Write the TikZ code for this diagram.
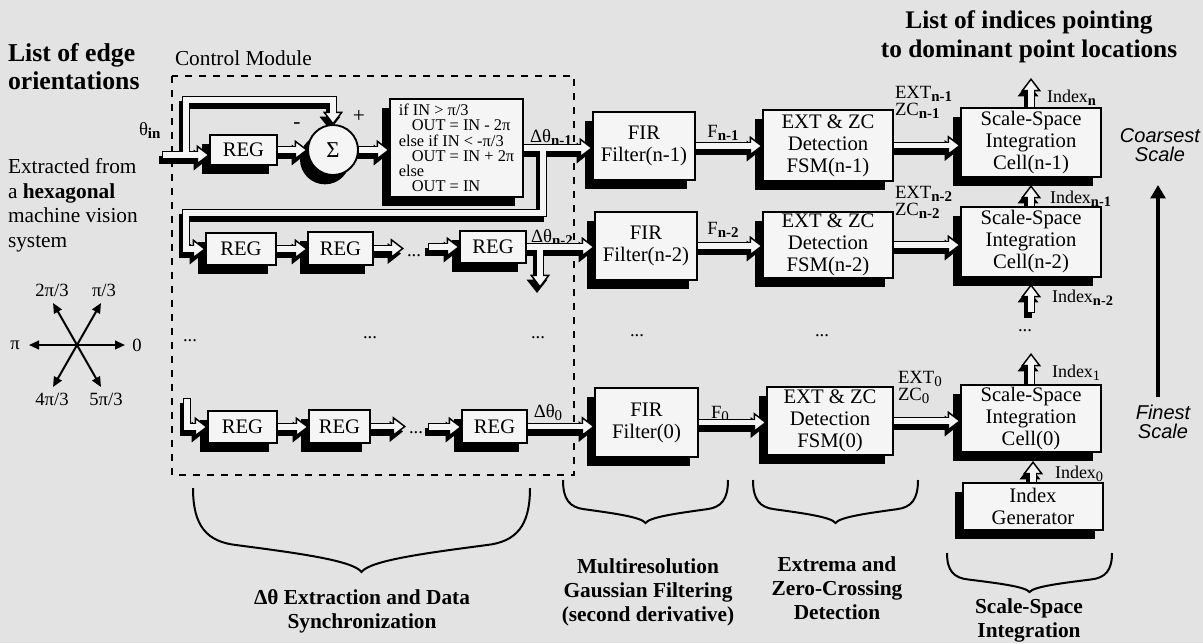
\documentclass[tikz,border=0pt]{standalone}
\usepackage{fontspec}
\setmainfont{Liberation Serif}
\newfontfamily\sansfam{Liberation Sans}
\usetikzlibrary{arrows.meta,shadows,calc}
\definecolor{paper}{gray}{0.89}
\definecolor{boxfill}{gray}{0.96}
\pgfdeclarelayer{bg}
\pgfdeclarelayer{ashadow}
\pgfdeclarelayer{aout}
\pgfdeclarelayer{ain}
\pgfsetlayers{bg,ashadow,main,aout,ain}

% subscripts
\newcommand\lo[1]{\raisebox{-0.45ex}{\scalebox{0.8}{\bfseries #1}}}
\newcommand\lz[1]{\raisebox{-0.45ex}{\scalebox{0.8}{#1}}}

% hollow 3-D arrow: black drop shadow, outline, light interior
\newcommand\fatarrow[1]{%
  \begin{pgfonlayer}{ashadow}\draw[fatshadow] #1;\end{pgfonlayer}%
  \begin{pgfonlayer}{aout}\draw[fatout] #1;\end{pgfonlayer}%
  \begin{pgfonlayer}{ain}\draw[fatin] #1;\end{pgfonlayer}}

% curly brace: left x, right x, top y, tip y
\newcommand\drawbrace[4]{%
  \pgfmathsetmacro\brC{(#1+#2)/2}%
  \pgfmathsetmacro\brW{(#2-#1)/2}%
  \pgfmathsetmacro\brH{#4-#3}%
  \draw[bracepath] (#1,#3)
    .. controls (#1,#3+0.45*\brH) and (#1+0.08*\brW,#3+0.64*\brH) .. (#1+0.26*\brW,#3+0.68*\brH)
    .. controls (#1+0.6*\brW,#3+0.77*\brH) and (\brC-0.05*\brW,#3+0.86*\brH) .. (\brC,#4)
    .. controls (\brC+0.05*\brW,#3+0.86*\brH) and (#2-0.6*\brW,#3+0.77*\brH) .. (#2-0.26*\brW,#3+0.68*\brH)
    .. controls (#2-0.08*\brW,#3+0.64*\brH) and (#2,#3+0.45*\brH) .. (#2,#3);}

\begin{document}
\begin{tikzpicture}[x=0.75pt, y=-0.75pt,
  every node/.style={inner sep=0pt, outer sep=0pt},
  box/.style={draw, line width=1.4pt, fill=boxfill, align=center,
    font=\fontsize{15.5}{16.5}\selectfont,
    drop shadow={shadow xshift=-6pt, shadow yshift=-7pt, fill=black, opacity=1}},
  sz/.style 2 args={minimum width=#1*0.75pt, minimum height=#2*0.75pt},
  fatshadow/.style={line width=6pt, black, -{Triangle[length=10pt,width=15pt]},
    transform canvas={shift={(-3,5)}}},
  fatout/.style={line width=6pt, black,
    -{Triangle[length=10pt,width=15pt,line width=1.1pt,fill=boxfill]}},
  fatin/.style={line width=3.8pt, boxfill, shorten >=8.3pt, shorten <=1.1pt},
  lbl/.style={font=\fontsize{14}{12.75}\selectfont},
  ilbl/.style={font=\fontsize{13.5}{14}\selectfont, anchor=base west},
  dotsn/.style={font=\fontsize{14}{14}\selectfont},
  star/.style={line width=1.5pt, -{Triangle[length=7.5pt,width=6.5pt]}},
  caption/.style={font=\fontsize{16}{18}\selectfont\bfseries, align=center, anchor=north},
  title/.style={font=\fontsize{19.3}{21}\selectfont\bfseries},
  bracepath/.style={line width=1.5pt},
  dashbox/.style={line width=2pt, dash pattern=on 5pt off 5.5pt},
  scalelbl/.style={font=\fontsize{15}{14.2}\selectfont\sansfam\itshape, align=center, anchor=north}
]
\useasboundingbox (0,0) rectangle (1203,643);
\begin{pgfonlayer}{bg}
  \fill[paper] (0,0) rectangle (1203,643);
\end{pgfonlayer}

% ---------- headings and side notes ----------
\node[title, align=left, anchor=north west] at (8,43.5) {List of edge\\orientations};
\node[font=\fontsize{16}{18.5}\selectfont, align=left, anchor=north west] at (8,158.5)
  {Extracted from\\a \textbf{hexagonal}\\machine vision\\system};
\node[font=\fontsize{16}{16}\selectfont, anchor=base west] at (175,65) {Control Module};
\node[title, align=center, anchor=north, font=\fontsize{19}{21.5}\selectfont\bfseries] at (1029,10.5)
  {List of indices pointing\\to dominant point locations};

% ---------- hexagonal orientations ----------
\coordinate (hc) at (77,345);
\coordinate (h0) at (125,345);
\coordinate (h60) at (101,303);
\coordinate (h120) at (53,303);
\coordinate (h180) at (29,345);
\coordinate (h240) at (53,387);
\coordinate (h300) at (101,387);
\foreach \e in {h0,h60,h120,h180,h240,h300} \draw[star] (hc) -- (\e);
\node[lbl] at (137,345) {0};
\node[lbl] at (104,290) {π/3};
\node[lbl] at (52,290) {2π/3};
\node[lbl] at (15,345) {π};
\node[lbl] at (52,399) {4π/3};
\node[lbl] at (106,399) {5π/3};

% ---------- control module ----------
\draw[dashbox] (172,76) rectangle (574,475);

\node[box, sz={67}{30}] (reg1) at (243.5,150) {REG};
\node[box, circle, minimum size=37.5pt, font=\fontsize{17}{17}\selectfont] (sum) at (333,150) {Σ};
\node[box, sz={133}{98}, align=left, font=\fontsize{12.3}{11.4}\selectfont] (cond) at (456.5,148)
  {if IN > π/3\\
   \hspace*{0.8em}OUT = IN - 2π\\
   else if IN < -π/3\\
   \hspace*{0.8em}OUT = IN + 2π\\
   else\\
   \hspace*{0.8em}OUT = IN};

\node[box, sz={70}{32}] (reg2a) at (241,249) {REG};
\node[box, sz={65}{33}] (reg2b) at (340.5,248.5) {REG};
\node[box, sz={66}{32}] (reg2c) at (493,247) {REG};

\node[box, sz={69}{32}] (reg0a) at (242.5,427) {REG};
\node[box, sz={61}{33}] (reg0b) at (339.5,426.5) {REG};
\node[box, sz={65}{33}] (reg0c) at (494.5,426.5) {REG};

% ---------- filters, detectors, integration cells ----------
\node[box, sz={102}{68}] (fir1) at (644,146) {FIR\\Filter(n-1)};
\node[box, sz={102}{68}] (fir2) at (646,246) {FIR\\Filter(n-2)};
\node[box, sz={103}{69}] (fir0) at (646.5,422.5) {FIR\\Filter(0)};

\node[box, sz={130}{71}] (ext1) at (828,145.5) {EXT \& ZC\\Detection\\FSM(n-1)};
\node[box, sz={130}{66}] (ext2) at (828,245) {EXT \& ZC\\Detection\\FSM(n-2)};
\node[box, sz={126}{68}] (ext0) at (830,421) {EXT \& ZC\\Detection\\FSM(0)};

\node[box, sz={140}{69}] (cell1) at (1031,142.5) {Scale-Space\\Integration\\Cell(n-1)};
\node[box, sz={140}{70}] (cell2) at (1031,242) {Scale-Space\\Integration\\Cell(n-2)};
\node[box, sz={140}{67}] (cell0) at (1031,418.5) {Scale-Space\\Integration\\Cell(0)};
\node[box, sz={140}{47}] (idx) at (1033,506.5) {Index\\Generator};

% ---------- row n-1 ----------
\coordinate (tin) at (162,155);
\coordinate (tj) at (186,155);
\coordinate (ttop) at (186,100);
\fatarrow{(tj) -- (ttop) -| (sum.north)}
\fatarrow{(tin) -- (tin -| reg1.west)}
\fatarrow{(reg1.east) -- (sum.west)}
\fatarrow{(sum.east) -- (sum.east -| cond.west)}
\coordinate (d1) at (543,148);
\coordinate (fb) at (186,213);
\fatarrow{(d1) |- (fb) |- (reg2a.west)}
\fatarrow{(cond.east) -- (cond.east -| fir1.west)}
\fatarrow{(fir1.east) -- (fir1.east -| ext1.west)}
\fatarrow{(ext1.east) -- (ext1.east -| cell1.west)}

% ---------- row n-2 ----------
\coordinate (r2t) at (404,249);
\coordinate (r2s) at (428,247);
\coordinate (d2) at (540,247);
\coordinate (d2e) at (540,288);
\fatarrow{(reg2a.east) -- (reg2a.east -| reg2b.west)}
\fatarrow{(reg2b.east) -- (reg2b.east -| r2t)}
\fatarrow{(r2s) -- (r2s -| reg2c.west)}
\fatarrow{(d2) -- (d2e)}
\fatarrow{(reg2c.east) -- (reg2c.east -| fir2.west)}
\fatarrow{(fir2.east) -- (fir2.east -| ext2.west)}
\fatarrow{(ext2.east) -- (ext2.east -| cell2.west)}

% ---------- row 0 ----------
\coordinate (t0) at (187,398);
\coordinate (r0t) at (406,427);
\coordinate (r0s) at (428,427);
\fatarrow{(t0) |- (reg0a.west)}
\fatarrow{(reg0a.east) -- (reg0a.east -| reg0b.west)}
\fatarrow{(reg0b.east) -- (reg0b.east -| r0t)}
\fatarrow{(r0s) -- (r0s -| reg0c.west)}
\fatarrow{(reg0c.east) -- (reg0c.east -| fir0.west)}
\fatarrow{(fir0.east) -- (fir0.east -| ext0.west)}
\fatarrow{(ext0.east) -- (ext0.east -| cell0.west)}

% ---------- index chain ----------
\coordinate (ixn) at (1031,78);
\coordinate (c1b) at ($(cell1.south)+(0,8)$);
\coordinate (c2b) at ($(cell2.south)+(0,7)$);
\coordinate (c0b) at ($(cell0.south)+(0,9)$);
\coordinate (ixt) at (1031,313);
\coordinate (ix1) at (1031,353);
\fatarrow{(cell1.north) -- (ixn)}
\fatarrow{(cell2.north) -- (c1b)}
\fatarrow{(ixt) -- (c2b)}
\fatarrow{(cell0.north) -- (ix1)}
\fatarrow{(idx.north) -- (idx.north |- c0b)}

% ---------- scale direction ----------
\coordinate (fs) at (1158,397);
\coordinate (cs) at (1158,185);
\draw[line width=2.6pt, -{Triangle[length=10pt,width=11pt]}] (fs) -- (cs);
\node[scalelbl] at (1160,129) {Coarsest\\Scale};
\node[scalelbl] at (1163,405) {Finest\\Scale};

% ---------- signal labels ----------
\node[lbl, anchor=base west] at (139,135) {θ\lo{in}};
\node[font=\fontsize{16}{16}\selectfont] at (297,126) {-};
\node[font=\fontsize{16}{16}\selectfont] at (359,116) {+};
\node[lbl, anchor=base] at (551,142) {Δθ\lo{n-1}};
\node[lbl, anchor=base] at (552,242) {Δθ\lo{n-2}};
\node[lbl, anchor=base] at (548,417) {Δθ\lz{0}};
\node[lbl, anchor=base] at (723,137) {F\lo{n-1}};
\node[lbl, anchor=base] at (723,234) {F\lo{n-2}};
\node[lbl, anchor=base] at (720,418) {F\lz{0}};
\node[lbl, align=left, anchor=base west] at (895,115) {EXT\lo{n-1}\\ZC\lo{n-1}};
\node[lbl, align=left, anchor=base west] at (895,215) {EXT\lo{n-2}\\ZC\lo{n-2}};
\node[lbl, align=left, anchor=base west] at (898,400) {EXT\lz{0}\\ZC\lz{0}};
\node[ilbl] at (1047,102) {Index\lo{n}};
\node[ilbl] at (1050,203) {Index\lo{n-1}};
\node[ilbl] at (1052,302) {Index\lo{n-2}};
\node[ilbl] at (1052,377) {Index\lz{1}};
\node[ilbl] at (1055,478) {Index\lz{0}};

% ---------- continuation dots ----------
\node[dotsn] at (190,341) {...};
\node[dotsn] at (370,338) {...};
\node[dotsn] at (538,338) {...};
\node[dotsn] at (637,336) {...};
\node[dotsn] at (822,336) {...};
\node[dotsn] at (1025,331) {...};
\node[dotsn] at (414,256) {...};
\node[dotsn] at (416,433) {...};

% ---------- stage braces ----------
\drawbrace{193}{530}{488}{572}
\drawbrace{563}{728}{480}{523}
\drawbrace{753}{918}{480}{523}
\drawbrace{947}{1112}{553}{592}
\node[caption] at (362,590) {Δθ Extraction and Data\\Synchronization};
\node[caption] at (648,559) {Multiresolution\\Gaussian Filtering\\(second derivative)};
\node[caption] at (837,557) {Extrema and\\Zero-Crossing\\Detection};
\node[caption] at (1029,599) {Scale-Space\\Integration};
\end{tikzpicture}
\end{document}
